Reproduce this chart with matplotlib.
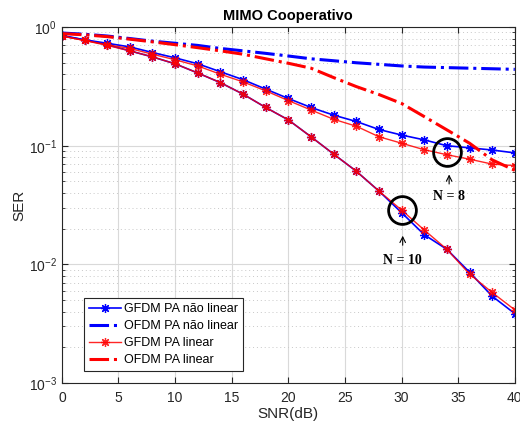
import matplotlib.pyplot as plt
import numpy as np

plt.rcParams['font.family'] = ['Liberation Sans', 'DejaVu Sans']
plt.rcParams['mathtext.default'] = 'regular'

snr = list(range(0, 41, 2))

# GFDM, N = 8
gfdm_nl_8 = [0.85, 0.78, 0.73, 0.68, 0.61, 0.55, 0.49, 0.42, 0.36, 0.30, 0.25,
             0.21, 0.181, 0.16, 0.137, 0.123, 0.112, 0.100, 0.096, 0.092, 0.087]
gfdm_l_8 = [0.84, 0.77, 0.71, 0.66, 0.59, 0.53, 0.47, 0.40, 0.345, 0.29, 0.24,
            0.20, 0.167, 0.146, 0.119, 0.105, 0.0925, 0.084, 0.077, 0.070, 0.068]
# GFDM, N = 10
gfdm_nl_10 = [0.84, 0.78, 0.71, 0.63, 0.56, 0.49, 0.41, 0.34, 0.272, 0.21, 0.165,
              0.119, 0.085, 0.061, 0.0415, 0.0273, 0.0178, 0.0134, 0.0086, 0.0054, 0.00385]
gfdm_l_10 = [0.84, 0.77, 0.70, 0.63, 0.56, 0.49, 0.41, 0.34, 0.272, 0.21, 0.165,
             0.119, 0.085, 0.061, 0.0415, 0.0287, 0.0195, 0.0134, 0.0083, 0.0058, 0.00414]
# OFDM
ofdm_nl = [0.89, 0.87, 0.84, 0.80, 0.76, 0.73, 0.70, 0.66, 0.63, 0.60, 0.57,
           0.54, 0.52, 0.50, 0.485, 0.47, 0.46, 0.455, 0.45, 0.445, 0.44]
ofdm_l = [0.88, 0.86, 0.83, 0.79, 0.75, 0.71, 0.67, 0.63, 0.59, 0.54, 0.495,
          0.45, 0.375, 0.315, 0.27, 0.227, 0.176, 0.136, 0.105, 0.076, 0.062]

yticks = [1e-3, 1e-2, 1e-1, 1]
ytick_labels = ['$10^{-3}$', '$10^{-2}$', '$10^{-1}$', '$10^{0}$']
xticks = [0, 5, 10, 15, 20, 25, 30, 35, 40]

fig = plt.figure(figsize=(5.2, 4.29), dpi=100)
ax = fig.add_axes([0.119, 0.107, 0.871, 0.830])

blue = (0, 0, 1)
red = (1, 0, 0)
ast = (8, 2, 0)  # matlab-like asterisk

ax.semilogy(snr, gfdm_nl_8, '-', marker=ast, color=blue, lw=1.2, ms=6.5, mew=0.9,
            label='GFDM PA não linear')
ax.semilogy(snr, gfdm_nl_10, '-', marker=ast, color=blue, lw=1.2, ms=6.5, mew=0.9)
ax.semilogy(snr, ofdm_nl, '-.', color=blue, lw=2.2, label='OFDM PA não linear')
ax.semilogy(snr, gfdm_l_8, '-', marker=ast, color=red, lw=1.0, ms=6.5, mew=0.9,
            label='GFDM PA linear', alpha=0.85)
ax.semilogy(snr, gfdm_l_10, '-', marker=ast, color=red, lw=1.0, ms=6.5, mew=0.9, alpha=0.85)
ax.semilogy(snr, ofdm_l, '-.', color=red, lw=2.2, label='OFDM PA linear')

ax.set_xlim(0, 40)
ax.set_ylim(1e-3, 1)
ax.set_xticks(xticks)
ax.set_yticks(yticks)
ax.set_yticklabels(ytick_labels)
ax.tick_params(which='both', direction='in', top=True, right=True,
               labelsize=10, colors='#262626', length=4)
ax.tick_params(which='minor', length=2)
ax.tick_params(axis='x', pad=6)
ax.grid(True, which='major', color='#d9d9d9', lw=0.8, ls='-')
ax.grid(True, which='minor', axis='y', color='#c8c8c8', lw=0.7, ls=(0, (1, 3)))
ax.set_axisbelow(True)
for s in ax.spines.values():
    s.set_color('#262626')

ax.set_title('MIMO Cooperativo', fontsize=10.5, fontweight='bold', pad=5)
ax.set_xlabel('SNR(dB)', fontsize=11, color='#262626', labelpad=1)
ax.set_ylabel('SER', fontsize=11, color='#262626', labelpad=2)

# circles marking N = 8 and N = 10
ax.plot([34, 30], [0.089, 0.0287], 'o', ms=20, mfc='none', mec='k', mew=2, zorder=5)

ax.annotate('', xy=(34.2, 0.0604), xytext=(34.2, 0.0451),
            arrowprops=dict(arrowstyle='->', color='k', lw=0.8))
ax.text(34.2, 0.037, 'N = 8', ha='center', va='center', fontsize=10,
        fontweight='bold', family='Liberation Serif')
ax.annotate('', xy=(30.1, 0.0184), xytext=(30.1, 0.01375),
            arrowprops=dict(arrowstyle='->', color='k', lw=0.8))
ax.text(30.1, 0.0107, 'N = 10', ha='center', va='center', fontsize=10,
        fontweight='bold', family='Liberation Serif')

leg = ax.legend(loc='lower left', bbox_to_anchor=(0.048, 0.033), fontsize=9,
                fancybox=False, framealpha=1, edgecolor='#262626',
                borderpad=0.4, labelspacing=0.4, handlelength=2.6,
                handletextpad=0.2, borderaxespad=0)
leg.get_frame().set_linewidth(0.8)

fig.savefig('out.png', dpi=100)
